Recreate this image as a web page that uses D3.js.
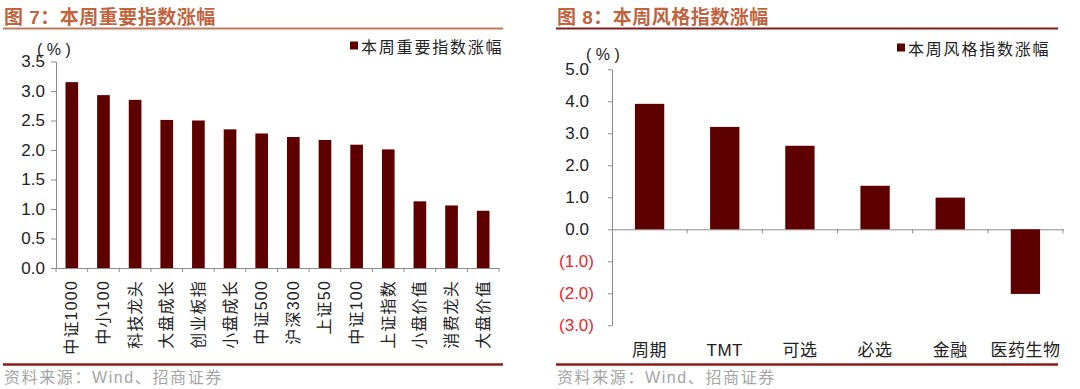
<!DOCTYPE html>
<html>
<head>
<meta charset="utf-8">
<script src="https://cdn.jsdelivr.net/npm/d3@7"></script>
<style>
  body { margin: 0; background: #fff; }
  svg { display: block; font-family: "Liberation Sans", Arial, "Noto Sans CJK SC", sans-serif; }
  .axis path, .axis line { stroke: #8c8c8c; }
</style>
</head>
<body>
<svg id="chart" width="1080" height="389"></svg>
<script>
// figure 7: key indices weekly change
const leftCats = ['中证1000', '中小100', '科技龙头', '大盘成长', '创业板指', '小盘成长', '中证500',
  '沪深300', '上证50', '中证100', '上证指数', '小盘价值', '消费龙头', '大盘价值'];
const leftVals = [3.15, 2.93, 2.85, 2.51, 2.50, 2.35, 2.28, 2.22, 2.17, 2.09, 2.01, 1.13, 1.06, 0.97];
const leftTicks = [0, 0.5, 1.0, 1.5, 2.0, 2.5, 3.0, 3.5];

// figure 8: style indices weekly change
const rightCats = ['周期', 'TMT', '可选', '必选', '金融', '医药生物'];
const rightVals = [3.92, 3.20, 2.61, 1.36, 0.99, -2.02];
const rightTicks = [-3, -2, -1, 0, 1, 2, 3, 4, 5];

const barColor = '#5e0000';
const titleColor = '#c0633f';
const svg = d3.select('#chart');
const cjk = '"Noto Sans CJK SC", sans-serif';

function frame(x0, x1, title, lineColor) {
  svg.append('text')
    .attr('x', x0 + 1).attr('y', 17)
    .attr('dominant-baseline', 'central')
    .attr('fill', titleColor)
    .style('font-family', '"Liberation Sans", ' + cjk)
    .style('font-size', '19px').style('font-weight', 'bold').style('letter-spacing', '0.5px')
    .text(title);
  svg.append('line')
    .attr('x1', x0).attr('x2', x1).attr('y1', 28.5).attr('y2', 28.5)
    .attr('stroke', lineColor).attr('stroke-width', 2);
  svg.append('line')
    .attr('x1', x0).attr('x2', x1).attr('y1', 364.5).attr('y2', 364.5)
    .attr('stroke', '#8e1b1b').attr('stroke-width', 2.5);
  svg.append('text')
    .attr('x', x0 + 1).attr('y', 377)
    .attr('dominant-baseline', 'central')
    .attr('fill', '#a5a5a5')
    .style('font-family', '"Liberation Sans", ' + cjk)
    .style('font-size', '16px').style('letter-spacing', '1.6px')
    .text('资料来源：Wind、招商证券');
}

function legend(x, y, label) {
  svg.append('rect').attr('x', x).attr('y', y - 4).attr('width', 8).attr('height', 8).attr('fill', barColor);
  svg.append('text')
    .attr('x', x + 11).attr('y', y)
    .attr('dominant-baseline', 'central')
    .attr('fill', '#222')
    .style('font-family', cjk).style('font-size', '16px').style('letter-spacing', '1.8px')
    .text(label);
}

function unitLabel(x, y) {
  svg.append('text')
    .attr('x', x).attr('y', y)
    .attr('dominant-baseline', 'central')
    .attr('fill', '#222').style('font-size', '16px')
    .text('( % )');
}

// ---------- left chart ----------
frame(3, 503, '图 7：本周重要指数涨幅', '#c27a5e');

const x1 = d3.scaleBand().domain(leftCats).range([56, 499]);
const y1 = d3.scaleLinear().domain([0, 3.5]).range([268, 61.5]);

const gl = svg.append('g');

gl.append('g')
  .attr('class', 'axis')
  .attr('transform', 'translate(56,0)')
  .call(d3.axisLeft(y1).tickValues(leftTicks).tickFormat(d3.format('.1f')).tickSize(5).tickSizeOuter(0).tickPadding(6))
  .call(g => g.selectAll('text').attr('fill', '#222').style('font-size', '17px'));

gl.append('g')
  .attr('class', 'axis')
  .attr('transform', 'translate(0,268)')
  .call(d3.axisBottom(x1).tickSize(0).tickSizeOuter(0).tickFormat(''));

// ticks between categories
gl.selectAll('line.sep').data(leftCats.concat([null])).enter()
  .append('line')
  .attr('class', 'sep')
  .attr('x1', (d, i) => i < leftCats.length ? x1(d) : x1.range()[1])
  .attr('x2', (d, i) => i < leftCats.length ? x1(d) : x1.range()[1])
  .attr('y1', 268).attr('y2', 272)
  .attr('stroke', '#8c8c8c');

const bw1 = x1.bandwidth() * 0.4;
gl.selectAll('rect.bar').data(leftVals).enter()
  .append('rect')
  .attr('class', 'bar')
  .attr('x', (d, i) => x1(leftCats[i]) + (x1.bandwidth() - bw1) / 2)
  .attr('width', bw1)
  .attr('y', d => y1(d))
  .attr('height', d => y1(0) - y1(d))
  .attr('fill', barColor);

gl.selectAll('text.cat').data(leftCats).enter()
  .append('text')
  .attr('class', 'cat')
  .attr('transform', d => 'translate(' + (x1(d) + x1.bandwidth() / 2) + ',280) rotate(-90)')
  .attr('text-anchor', 'end')
  .attr('dominant-baseline', 'central')
  .attr('fill', '#222')
  .style('font-family', '"Liberation Sans", ' + cjk)
  .style('font-size', '16px').style('letter-spacing', '1.2px')
  .text(d => d);

legend(350, 45.5, '本周重要指数涨幅');
unitLabel(37, 49);

// ---------- right chart ----------
frame(556, 1058, '图 8：本周风格指数涨幅', '#7e1f1f');

const x2 = d3.scaleBand().domain(rightCats).range([612, 1063]);
const y2 = d3.scaleLinear().domain([-3, 5]).range([325.3, 69.3]);

const gr = svg.append('g');

const fmt = d3.format('.1f');
gr.append('g')
  .attr('class', 'axis')
  .attr('transform', 'translate(612,0)')
  .call(d3.axisLeft(y2).tickValues(rightTicks)
    .tickFormat(d => d < 0 ? '(' + fmt(-d) + ')' : fmt(d))
    .tickSize(4).tickSizeOuter(0).tickPadding(14))
  .call(g => g.selectAll('text')
    .attr('fill', d => d < 0 ? '#e3262e' : '#222')
    .attr('dx', d => d < 0 ? 0 : -5)
    .style('font-size', '17px'));

gr.append('g')
  .attr('class', 'axis')
  .attr('transform', 'translate(0,' + y2(0) + ')')
  .call(d3.axisBottom(x2).tickSize(0).tickSizeOuter(0).tickFormat(''));

gr.selectAll('line.sep').data(rightCats).enter()
  .append('line')
  .attr('class', 'sep')
  .attr('x1', (d, i) => i < rightCats.length - 1 ? x2(d) + x2.step() : x2.range()[1])
  .attr('x2', (d, i) => i < rightCats.length - 1 ? x2(d) + x2.step() : x2.range()[1])
  .attr('y1', y2(0)).attr('y2', y2(0) + 4)
  .attr('stroke', '#8c8c8c');

const bw2 = x2.bandwidth() * 0.39;
gr.selectAll('rect.bar').data(rightVals).enter()
  .append('rect')
  .attr('class', 'bar')
  .attr('x', (d, i) => x2(rightCats[i]) + (x2.bandwidth() - bw2) / 2)
  .attr('width', bw2)
  .attr('y', d => y2(Math.max(0, d)))
  .attr('height', d => Math.abs(y2(d) - y2(0)))
  .attr('fill', barColor);

gr.selectAll('text.cat').data(rightCats).enter()
  .append('text')
  .attr('class', 'cat')
  .attr('x', d => x2(d) + x2.bandwidth() / 2)
  .attr('y', 350)
  .attr('text-anchor', 'middle')
  .attr('dominant-baseline', 'central')
  .attr('fill', '#222')
  .style('font-family', '"Liberation Sans", ' + cjk)
  .style('font-size', '17px').style('letter-spacing', '0.5px')
  .text(d => d);

legend(897, 47.5, '本周风格指数涨幅');
unitLabel(586, 54);
</script>
</body>
</html>
